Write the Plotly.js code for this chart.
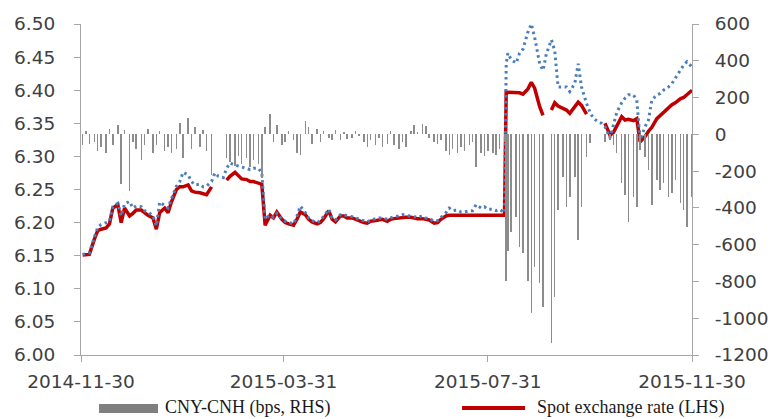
<!DOCTYPE html>
<html>
<head>
<meta charset="utf-8">
<script src="https://cdn.plot.ly/plotly-3.0.1.min.js"></script>
<style>html,body{margin:0;padding:0;background:#fff;}#chart{width:771px;height:419px;}</style>
</head>
<body>
<div id="chart"></div>
<script>
var dates = [
"2014-12-01","2014-12-03","2014-12-05","2014-12-08","2014-12-10","2014-12-12","2014-12-15","2014-12-17","2014-12-19","2014-12-22","2014-12-24","2014-12-26","2014-12-29","2014-12-31",
"2015-01-02","2015-01-05","2015-01-07","2015-01-09","2015-01-12","2015-01-14","2015-01-16","2015-01-19","2015-01-21","2015-01-23","2015-01-26","2015-01-28","2015-01-30",
"2015-02-02","2015-02-04","2015-02-06","2015-02-09","2015-02-11","2015-02-13","2015-02-16","2015-02-18","2015-02-20","2015-02-23","2015-02-25","2015-02-27",
"2015-03-02","2015-03-04","2015-03-06","2015-03-09","2015-03-11","2015-03-13","2015-03-16","2015-03-18","2015-03-20","2015-03-23","2015-03-25","2015-03-27","2015-03-30",
"2015-04-01","2015-04-03","2015-04-06","2015-04-08","2015-04-10","2015-04-13","2015-04-15","2015-04-17","2015-04-20","2015-04-22","2015-04-24","2015-04-27","2015-04-29",
"2015-05-01","2015-05-04","2015-05-06","2015-05-08","2015-05-11","2015-05-13","2015-05-15","2015-05-18","2015-05-20","2015-05-22","2015-05-25","2015-05-27","2015-05-29",
"2015-06-01","2015-06-03","2015-06-05","2015-06-08","2015-06-10","2015-06-12","2015-06-15","2015-06-17","2015-06-19","2015-06-22","2015-06-24","2015-06-26","2015-06-29",
"2015-07-01","2015-07-03","2015-07-06","2015-07-08","2015-07-10","2015-07-13","2015-07-15","2015-07-17","2015-07-20","2015-07-22","2015-07-24","2015-07-27","2015-07-29","2015-07-31",
"2015-08-03","2015-08-05","2015-08-07","2015-08-10","2015-08-11","2015-08-12","2015-08-14","2015-08-17","2015-08-19","2015-08-21","2015-08-24","2015-08-26","2015-08-28","2015-08-31",
"2015-09-02","2015-09-04","2015-09-07","2015-09-09","2015-09-11","2015-09-14","2015-09-16","2015-09-18","2015-09-21","2015-09-23","2015-09-25","2015-09-28","2015-09-30",
"2015-10-02","2015-10-05","2015-10-07","2015-10-09","2015-10-12","2015-10-14","2015-10-16","2015-10-19","2015-10-21","2015-10-23","2015-10-26","2015-10-28","2015-10-30",
"2015-11-02","2015-11-04","2015-11-06","2015-11-09","2015-11-11","2015-11-13","2015-11-16","2015-11-18","2015-11-20","2015-11-23","2015-11-25","2015-11-27","2015-11-30"
];

var spotCNY = [
6.151,6.151,6.152,6.175,6.188,6.19,6.192,6.198,6.222,6.227,6.2,6.222,6.21,6.214,
6.219,6.219,6.215,6.211,6.207,6.19,6.215,6.222,6.215,6.231,6.25,6.254,6.254,
6.257,6.248,6.246,6.245,6.244,6.242,6.254,null,null,null,6.264,6.27,
6.276,6.27,6.266,6.265,6.262,6.262,6.26,6.258,6.196,6.211,6.207,6.216,6.205,
6.2,6.198,6.196,6.205,6.216,6.212,6.205,6.201,6.198,6.2,6.206,6.218,6.205,
6.201,6.21,6.21,6.207,6.207,6.205,6.202,6.2,6.199,6.202,6.203,6.204,6.205,
6.202,6.205,6.206,6.207,6.208,6.208,6.208,6.207,6.206,6.206,6.205,6.204,6.199,
6.2,6.205,6.21,6.211,6.211,6.211,6.211,6.211,6.211,6.211,6.211,6.211,6.211,6.211,
6.211,6.211,6.211,6.211,6.397,6.397,6.397,6.396,6.396,6.394,6.402,6.412,6.403,6.375,
6.362,null,6.37,6.381,6.376,6.372,6.37,6.365,6.375,6.382,6.377,6.364,null,
null,null,null,6.35,6.332,6.336,6.345,6.36,6.355,6.356,6.354,6.357,6.322,
6.33,6.338,6.344,6.357,6.362,6.366,6.373,6.378,6.381,6.387,6.389,6.393,6.4
];

var spotCNH = [
6.152,6.153,6.154,6.178,6.193,6.197,6.2,6.202,6.224,6.229,6.21,6.228,6.232,6.222,
6.225,6.224,6.218,6.216,6.21,6.195,6.231,6.225,6.222,6.236,6.255,6.262,6.276,
6.272,6.262,6.257,6.258,6.254,6.255,6.262,6.275,6.27,6.268,6.282,6.29,
6.287,6.285,6.284,6.282,6.28,6.282,6.282,6.275,6.205,6.212,6.208,6.214,6.205,
6.202,6.2,6.198,6.21,6.225,6.215,6.207,6.203,6.2,6.203,6.21,6.22,6.207,
6.204,6.212,6.212,6.21,6.209,6.207,6.205,6.203,6.201,6.204,6.206,6.207,6.207,
6.205,6.207,6.209,6.21,6.212,6.211,6.21,6.209,6.208,6.21,6.207,6.206,6.202,
6.203,6.208,6.215,6.222,6.218,6.219,6.216,6.216,6.218,6.218,6.227,6.222,6.224,6.22,
6.22,6.218,6.22,6.215,6.44,6.456,6.446,6.441,6.456,6.462,6.488,6.5,6.48,6.44,
6.43,6.455,6.476,6.46,6.405,6.405,6.405,6.398,6.41,6.44,6.405,6.38,6.367,
6.358,6.352,6.35,6.345,6.328,6.345,6.366,6.381,6.388,6.393,6.393,6.385,6.325,
6.345,6.355,6.385,6.393,6.395,6.4,6.405,6.41,6.418,6.43,6.438,6.443,6.435
];

var spreadBps = [
-60,20,-50,-40,-90,-70,-100,30,-60,50,-270,25,-310,-40,
-80,-140,-60,30,-100,-60,20,-90,-70,-100,-80,60,-130,
90,-80,40,-70,25,-90,-220,null,null,null,-130,-150,
-170,-120,-160,-130,-175,-140,-160,-240,40,110,-40,50,-60,
-40,20,-30,-100,-115,75,40,-50,30,-40,20,-20,-30,
25,-30,15,-25,-20,20,-10,-40,-70,-30,-60,-20,-70,
-50,20,-60,-80,-40,-70,20,50,10,55,45,-20,-40,
-50,-30,-90,-110,-80,-100,-70,-90,-60,-40,-180,-100,-120,-90,
-100,-110,-80,-40,-795,-632,-533,-451,-614,-647,-795,-974,-724,-810,
-941,null,-1136,-886,-413,-234,-397,-343,-234,-576,-397,-125,-49,
null,null,null,-40,-30,-60,-103,-266,-332,-478,-343,-397,-87,
-125,-196,-386,-250,-304,-266,-343,-321,-250,-375,-413,-505,-343
];

var xTicks = ["2014-11-30","2015-03-31","2015-07-31","2015-11-30"];
var rhsTickVals = [-1200,-1000,-800,-600,-400,-200,0,200,400,600];
var rhsTickText = ["-1200","-1000","-800","-600","-400","-200","0","200","400","600"];
var names = ["CNY-CNH (bps, RHS)", "Spot exchange rate (LHS)", "CNH spot"];

var axisGray = "#a6a6a6";
var tickFont = {family: "DejaVu Sans, Verdana, sans-serif", size: 18.5, color: "#404040"};
var legendFont = {family: "Liberation Serif, Times New Roman, serif", size: 18, color: "#1a1a1a"};

var traces = [
  {type: "bar", x: dates, y: spreadBps, yaxis: "y2", name: names[0],
   marker: {color: "#8c8c8c", line: {width: 0}}, width: 86400000 * 0.9, hoverinfo: "skip"},
  {type: "scatter", mode: "lines", x: dates, y: spotCNY, name: names[1],
   line: {color: "#c00000", width: 3.5}, connectgaps: false},
  {type: "scatter", mode: "lines", x: dates, y: spotCNH, name: names[2],
   line: {color: "#4a7ebb", width: 3, dash: "2.5px,3.5px"}, connectgaps: true}
];

var layout = {
  width: 771, height: 419,
  margin: {l: 81, r: 79, t: 24, b: 64, pad: 0},
  paper_bgcolor: "#ffffff", plot_bgcolor: "#ffffff",
  bargap: 0,
  showlegend: false,
  xaxis: {type: "date", range: ["2014-11-30", "2015-11-30"], tickvals: xTicks, tickformat: "%Y-%m-%d",
          ticks: "outside", ticklen: 6, tickcolor: axisGray, showline: true, linecolor: axisGray, linewidth: 1,
          showgrid: false, zeroline: false, tickfont: tickFont, ticklabelstandoff: 4},
  yaxis: {range: [6.0, 6.5], dtick: 0.05, tick0: 6.0, tickformat: ".2f", ticks: "outside", ticklen: 6,
          tickcolor: axisGray, showline: true, linecolor: axisGray, linewidth: 1, showgrid: false,
          zeroline: false, tickfont: tickFont, ticklabelstandoff: 15},
  yaxis2: {overlaying: "y", side: "right", range: [-1200, 600], tickmode: "array",
           tickvals: rhsTickVals, ticktext: rhsTickText, ticks: "outside",
           ticklen: 6, tickcolor: axisGray, showline: true, linecolor: axisGray, linewidth: 1,
           showgrid: false, zeroline: false, tickfont: tickFont, ticklabelstandoff: 12},
  shapes: [
    {type: "rect", xref: "paper", yref: "paper", x0: 0.0295, x1: 0.126, y0: -0.148, y1: -0.1752,
     fillcolor: "#7f7f7f", line: {width: 0}},
    {type: "line", xref: "paper", yref: "paper", x0: 0.6236, x1: 0.7267, y0: -0.1601, y1: -0.1601,
     line: {color: "#c00000", width: 4}}
  ],
  annotations: [
    {xref: "paper", yref: "paper", x: 0.1342, y: -0.1601, xanchor: "left", yanchor: "middle",
     text: names[0], showarrow: false, font: legendFont},
    {xref: "paper", yref: "paper", x: 0.743, y: -0.1601, xanchor: "left", yanchor: "middle",
     text: names[1], showarrow: false, font: legendFont}
  ]
};

Plotly.newPlot("chart", traces, layout, {displayModeBar: false, staticPlot: true});
</script>
</body>
</html>
